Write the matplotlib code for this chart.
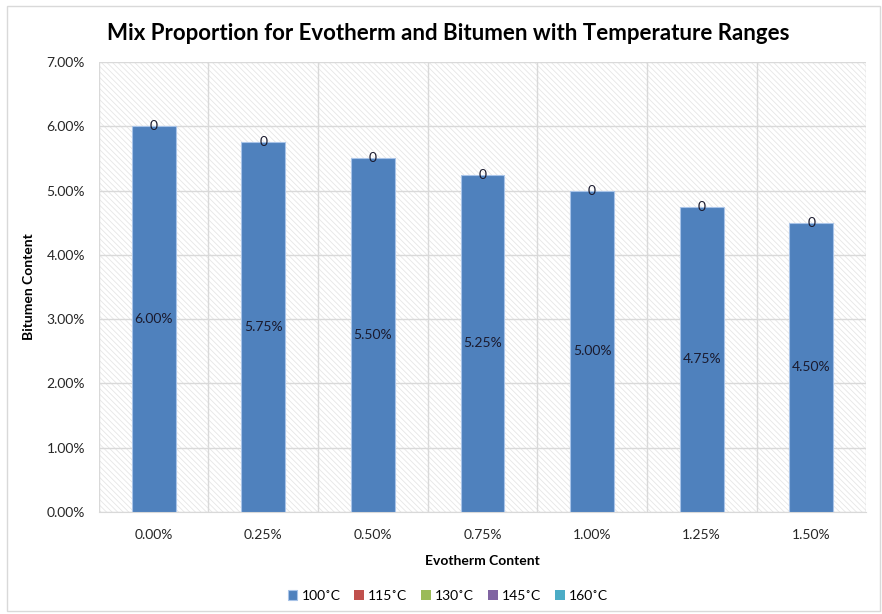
import matplotlib.pyplot as plt
from matplotlib.patches import Rectangle
from matplotlib.ticker import PercentFormatter
import numpy as np

plt.rcParams['font.family'] = ['Lato', 'DejaVu Sans']
plt.rcParams['hatch.linewidth'] = 0.6

categories = ['0.00%', '0.25%', '0.50%', '0.75%', '1.00%', '1.25%', '1.50%']
series_names = ['100˚C', '115˚C', '130˚C', '145˚C', '160˚C']
bitumen_100 = [6.00, 5.75, 5.50, 5.25, 5.00, 4.75, 4.50]
bitumen_other = [0, 0, 0, 0, 0, 0, 0]
colors = ['#4f81bd', '#c0504d', '#9bbb59', '#8064a2', '#4bacc6']

fig = plt.figure(figsize=(8.82, 6.14), dpi=100)
# outer chart border
fig.patches.append(Rectangle((0.008, 0.005), 0.99, 0.985, transform=fig.transFigure,
                             fill=False, edgecolor='#d9d9d9', linewidth=1))
ax = fig.add_axes([0.112, 0.166, 0.87, 0.733])

x = np.arange(len(categories))
ax.set_xlim(-0.5, len(categories) - 0.5)
ax.set_ylim(0, 7)

# hatched background
ax.add_patch(Rectangle((-0.5, 0), len(categories), 7, facecolor='white',
                       edgecolor='#e6e6e6', hatch='\\\\\\\\\\\\', linewidth=0, zorder=0))

bottom = np.zeros(len(categories))
for i, name in enumerate(series_names):
    vals = np.array(bitumen_100 if i == 0 else bitumen_other, dtype=float)
    ax.bar(x, vals, 0.4, bottom=bottom, color=colors[i], label=name,
           edgecolor='#a9c4e8', linewidth=0.8 if i == 0 else 0, zorder=3)
    if i == 0:
        for xi, b, v in zip(x, bottom, vals):
            ax.text(xi, b + v / 2, f'{v:.2f}%', ha='center', va='center',
                    fontsize=10, color='#1a1a2e', zorder=5)
    bottom = bottom + vals

# zero labels at the top of each stack
for xi, top in zip(x, bottom):
    ax.text(xi, top, '0', ha='center', va='center', fontsize=10, color='#1a1a2e', zorder=5)

ax.yaxis.set_major_formatter(PercentFormatter(decimals=2))
ax.set_yticks(np.arange(0, 7.01, 1))
ax.set_xticks(x)
ax.set_xticklabels(categories)
ax.set_xticks(np.arange(-0.5, len(categories), 1), minor=True)
ax.grid(True, axis='y', color='#d9d9d9', linewidth=1, zorder=1)
ax.grid(True, axis='x', which='minor', color='#d9d9d9', linewidth=1, zorder=1)
ax.tick_params(axis='both', which='both', length=0, labelsize=10, colors='#262626')
ax.tick_params(axis='x', pad=12)
ax.tick_params(axis='y', pad=10)
for s in ['top', 'right', 'left']:
    ax.spines[s].set_visible(False)
ax.spines['bottom'].set_color('#d9d9d9')

ax.set_xlabel('Evotherm Content', fontsize=10, fontweight='bold', labelpad=10)
ax.set_ylabel('Bitumen Content', fontsize=10, fontweight='bold', labelpad=8)
fig.suptitle('Mix Proportion for Evotherm and Bitumen with Temperature Ranges',
             fontsize=16, fontweight='bold', x=0.508, y=0.963)

ax.legend(loc='upper center', bbox_to_anchor=(0.455, -0.145), ncol=5, frameon=False,
          fontsize=10, handlelength=0.7, handleheight=0.7, columnspacing=1.0,
          handletextpad=0.3)

fig.savefig('out.png', dpi=100)
